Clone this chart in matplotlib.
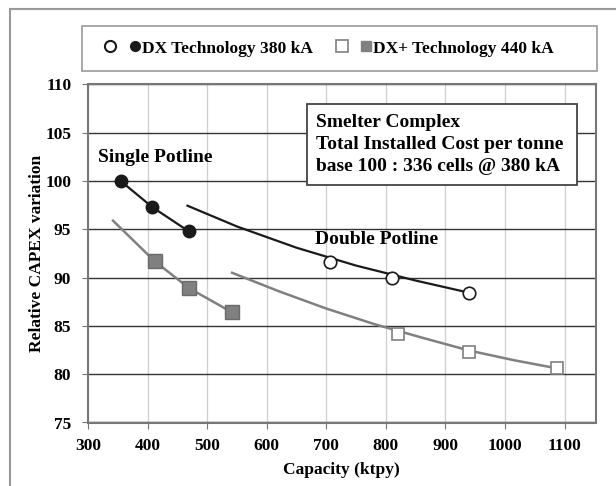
import matplotlib.pyplot as plt
from matplotlib.lines import Line2D
from matplotlib.patches import Rectangle
from matplotlib.legend_handler import HandlerTuple

plt.rcParams["font.family"] = ["Liberation Serif", "DejaVu Serif"]
plt.rcParams["font.weight"] = "bold"
plt.rcParams["axes.labelweight"] = "bold"

# single potline points
dx_single_x = [355, 408, 469]
dx_single_y = [100.0, 97.3, 94.8]
dxp_single_x = [412, 470, 542]
dxp_single_y = [91.7, 88.9, 86.4]
dxp_single_line_x = [342, 412, 470, 542]
dxp_single_line_y = [95.9, 91.7, 88.9, 86.4]

# double potline points
dx_double_x = [707, 810, 939]
dx_double_y = [91.6, 89.95, 88.45]
dxp_double_x = [821, 939, 1088]
dxp_double_y = [84.2, 82.3, 80.6]

# trend lines
dx_trend_x = [467, 550, 650, 750, 850, 939]
dx_trend_y = [97.45, 95.3, 93.1, 91.25, 89.7, 88.45]
dxp_trend_x = [542, 620, 700, 780, 860, 940, 1015, 1088]
dxp_trend_y = [90.5, 88.6, 86.8, 85.2, 83.8, 82.45, 81.45, 80.6]

x_ticks = [300, 400, 500, 600, 700, 800, 900, 1000, 1100]
y_ticks = [75, 80, 85, 90, 95, 100, 105, 110]

black = "#1a1a1a"
gray = "#808080"
W, H = 616, 486

fig = plt.figure(figsize=(6.16, 4.86), dpi=100)
ax = fig.add_axes([88 / W, 1 - 422.5 / H, 507.5 / W, 338 / H])

ax.set_xlim(300, 1152)
ax.set_ylim(75, 110)
ax.set_xticks(x_ticks)
ax.set_yticks(y_ticks)
ax.tick_params(labelsize=12.5, length=4, color="#777")
ax.tick_params(axis="x", pad=7)
ax.tick_params(axis="y", pad=8)
for s in ax.spines.values():
    s.set_color("#777")
    s.set_linewidth(1.5)
ax.xaxis.grid(True, color="#cfcfcf", lw=0.9)
ax.yaxis.grid(True, color="#333", lw=1.0)
ax.set_axisbelow(True)

# lines
ax.plot(dx_single_x, dx_single_y, color=black, lw=1.6, zorder=2)
ax.plot(dxp_single_line_x, dxp_single_line_y, color=gray, lw=1.8, zorder=2)
ax.plot(dx_trend_x, dx_trend_y, color=black, lw=1.6, zorder=2)
ax.plot(dxp_trend_x, dxp_trend_y, color=gray, lw=1.8, zorder=2)

# markers
ax.plot(dx_single_x, dx_single_y, "o", ms=9, mfc=black, mec=black, zorder=3)
ax.plot(dxp_single_x, dxp_single_y, "s", ms=10, mfc=gray, mec="#6a6a6a", zorder=3)
ax.plot(dx_double_x, dx_double_y, "o", ms=9, mfc="white", mec=black, mew=1.2, zorder=3)
ax.plot(dxp_double_x, dxp_double_y, "s", ms=9, mfc="white", mec=gray, mew=1.2, zorder=3)

ax.text(317, 102.4, "Single Potline", fontsize=14, va="center")
ax.text(681, 94.0, "Double Potline", fontsize=14, va="center")

# annotation box
fig.patches.append(Rectangle((307 / W, 1 - 185 / H), 270 / W, 81 / H,
                             transform=fig.transFigure, fc="white", ec="#444", lw=1.3))
fig.text(316 / W, 1 - 144.5 / H,
         "Smelter Complex\nTotal Installed Cost per tonne\nbase 100 : 336 cells @ 380 kA",
         fontsize=14, va="center", ha="left", linespacing=1.35, zorder=5)

ax.set_xlabel("Capacity (ktpy)", fontsize=12.5, labelpad=6)
ax.set_ylabel("Relative CAPEX variation", fontsize=12.5, labelpad=0)

# legend frame and entries
fig.patches.append(Rectangle((82 / W, 1 - 71 / H), 515 / W, 45 / H,
                             transform=fig.transFigure, fc="white", ec="#999", lw=1.2))
h_dx = (Line2D([], [], ls="", marker="o", ms=8, mfc="white", mec=black, mew=1.5),
        Line2D([], [], ls="", marker="o", ms=7, mfc=black, mec=black))
h_dxp = (Line2D([], [], ls="", marker="s", ms=8, mfc="white", mec=gray, mew=1.2),
         Line2D([], [], ls="", marker="s", ms=7, mfc=gray, mec=gray))
fig.legend([h_dx, h_dxp], ["DX Technology 380 kA", "DX+ Technology 440 kA"],
           handler_map={tuple: HandlerTuple(ndivide=None, pad=0.8)},
           loc="center", bbox_to_anchor=(329.5 / W, 1 - 48.5 / H), ncol=2,
           frameon=False, fontsize=12.5, handlelength=2.0, handletextpad=0.1,
           columnspacing=1.4)

# outer border
fig.add_artist(Line2D([10 / W, 10 / W], [0, 1 - 9 / H], transform=fig.transFigure,
                      color="#999", lw=1.5))
fig.add_artist(Line2D([10 / W, 1], [1 - 9 / H, 1 - 9 / H], transform=fig.transFigure,
                      color="#999", lw=1.5))

fig.savefig("out.png", dpi=100)
